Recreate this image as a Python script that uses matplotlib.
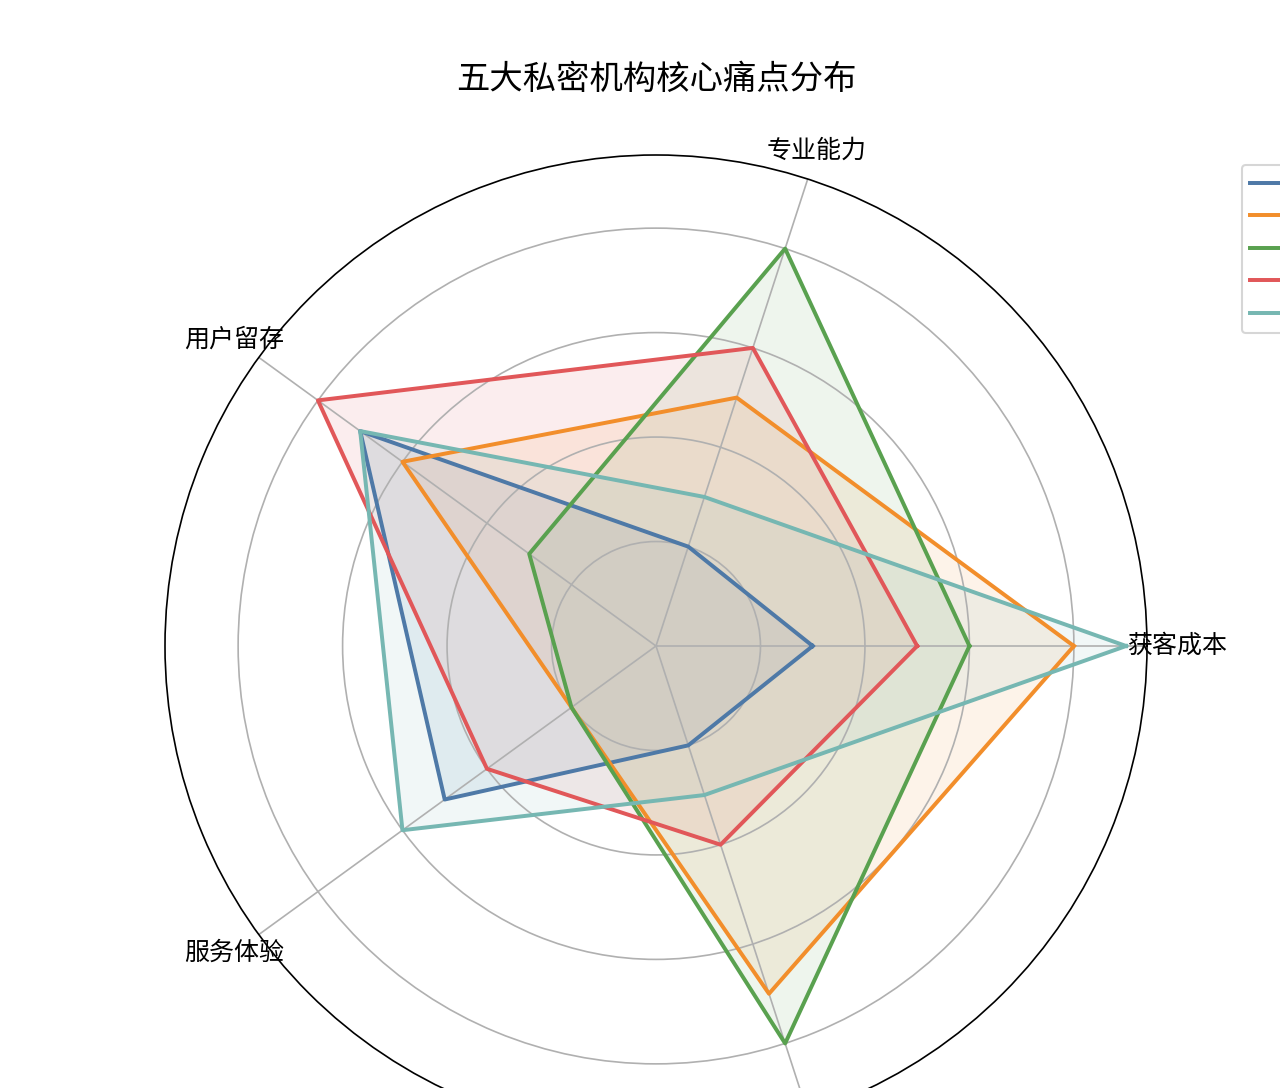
import numpy as np
import matplotlib
matplotlib.use('Agg')
import matplotlib.pyplot as plt

plt.rcParams['font.family'] = ['Noto Sans CJK SC', 'DejaVu Sans']

# radar dimensions and per-institution scores
dimensions = ['获客成本', '专业能力', '用户留存', '服务体验', '转化效率']
institutions = ['机构A', '机构B', '机构C', '机构D', '机构E']
scores_a = [3, 2, 7, 5, 2]
scores_b = [8, 5, 6, 2, 7]
scores_c = [6, 8, 3, 2, 8]
scores_d = [5, 6, 8, 4, 4]
scores_e = [9, 3, 7, 6, 3]
colors = ['#4e79a7', '#f28e2b', '#59a14f', '#e15759', '#76b7b2']

if __name__ == '__main__':
    all_scores = [scores_a, scores_b, scores_c, scores_d, scores_e]
    n = len(dimensions)
    angles = np.linspace(0, 2 * np.pi, n, endpoint=False).tolist()
    angles_closed = angles + angles[:1]

    W, H, dpi = 1280, 1088, 150
    fig = plt.figure(figsize=(W / dpi, H / dpi), dpi=dpi)
    cx, cy, R = 656, 646, 491
    ax = fig.add_axes([(cx - R) / W, (H - cy - R) / H, 2 * R / W, 2 * R / H],
                      projection='polar')

    for name, vals, c in zip(institutions, all_scores, colors):
        v = vals + vals[:1]
        ax.plot(angles_closed, v, color=c, linewidth=1.9, label=name)
        ax.fill(angles_closed, v, color=c, alpha=0.1)

    ax.set_ylim(0, 9.4)
    ax.set_yticks([2, 4, 6, 8])
    ax.set_yticklabels([])
    ax.set_xticks(angles)
    ax.set_xticklabels(dimensions, fontsize=12)
    ax.tick_params(axis='x', pad=4)
    ax.grid(color='#b0b0b0', linewidth=0.8)

    fig.text(cx / W, 1 - 79 / H, '五大私密机构核心痛点分布', ha='center', va='center',
             fontsize=16)

    fig.legend(loc='upper left', bbox_to_anchor=(1242 / W, 1 - 165 / H),
               borderaxespad=0, fontsize=10)

    fig.savefig('out.png', dpi=dpi)
